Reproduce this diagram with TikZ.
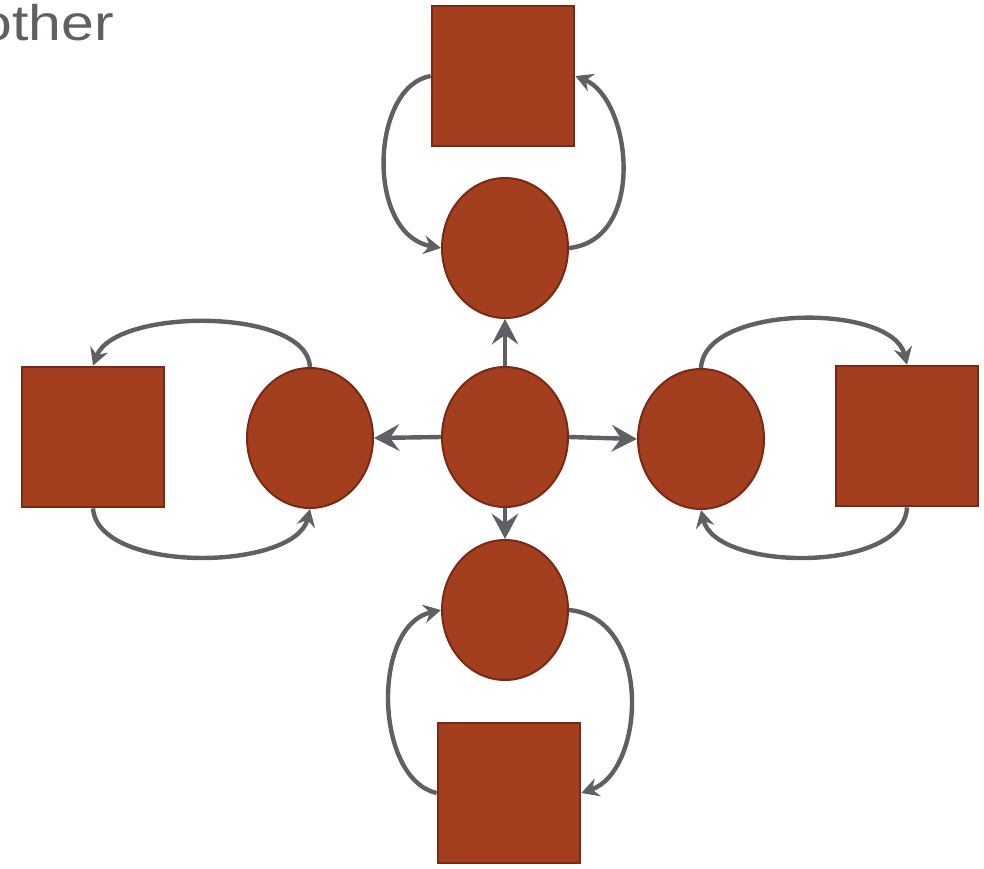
\documentclass[tikz,border=0pt]{standalone}
\usepackage{fontspec}
\setmainfont{Liberation Sans}
\usetikzlibrary{shapes.geometric,arrows.meta}
\definecolor{rust}{HTML}{A33F1F}
\definecolor{rustedge}{HTML}{7A2913}
\definecolor{linkgray}{HTML}{5F6065}
\tikzset{
  hub/.style={ellipse, draw=rustedge, line width=1.5pt, fill=rust,
    minimum width=94.5pt, minimum height=105pt, inner sep=0pt},
  block/.style={rectangle, draw=rustedge, line width=1.5pt, fill=rust,
    minimum width=107pt, minimum height=105.5pt, inner sep=0pt},
  spoke/.style={draw=linkgray, line width=3.3pt,
    -{Stealth[length=19pt,width=20pt,inset=7pt]}},
  loopline/.style={draw=linkgray, line width=3.3pt,
    -{Stealth[length=13pt,width=14pt,inset=4.5pt]}}
}
\begin{document}
\begin{tikzpicture}[x=0.75pt,y=-0.75pt]
  \useasboundingbox (0,0) rectangle (984,868);

  % caption fragment in the corner
  \node[anchor=base east, inner sep=0pt, text=linkgray,
        font=\fontsize{37.5pt}{45pt}\selectfont] (cap) at (114,40)
        {\scalebox{1.18}[1]{other}};

  % ellipses
  \node[hub] (ec) at (505,437) {};
  \node[hub] (et) at (505,248) {};
  \node[hub] (el) at (310,438) {};
  \node[hub] (er) at (701,439) {};
  \node[hub] (eb) at (505,610) {};

  % squares
  \node[block] (st) at (503,76) {};
  \node[block] (sl) at (93,437) {};
  \node[block] (sr) at (907,436) {};
  \node[block] (sb) at (509,793) {};

  % spokes from the centre
  \draw[spoke] (ec.north) -- (et.south);
  \draw[spoke] (ec.west) -- (el.east);
  \draw[spoke] (ec.east) -- (er.west);
  \draw[spoke] (ec.south) -- (eb.north);

  % top loop
  \draw[loopline] (st.west) .. controls +(-60,10) and +(-76,-14) .. (et.west);
  \draw[loopline] (et.east) .. controls +(78,-8) and +(56,23) .. (st.east);

  % left loop
  \draw[loopline] (el.north) .. controls +(-3,-60) and +(22,-58) .. (sl.north);
  \draw[loopline] (sl.south) .. controls +(5,66) and +(-15,62) .. (el.south);

  % right loop
  \draw[loopline] (er.north) .. controls +(3,-64) and +(-15,-62) .. (sr.north);
  \draw[loopline] (sr.south) .. controls +(-3,66) and +(15,62) .. (er.south);

  % bottom loop
  \draw[loopline] (sb.west) .. controls +(-62,-14) and +(-70,16) .. (eb.west);
  \draw[loopline] (eb.east) .. controls +(84,8) and +(64,-22) .. (sb.east);
\end{tikzpicture}
\end{document}
